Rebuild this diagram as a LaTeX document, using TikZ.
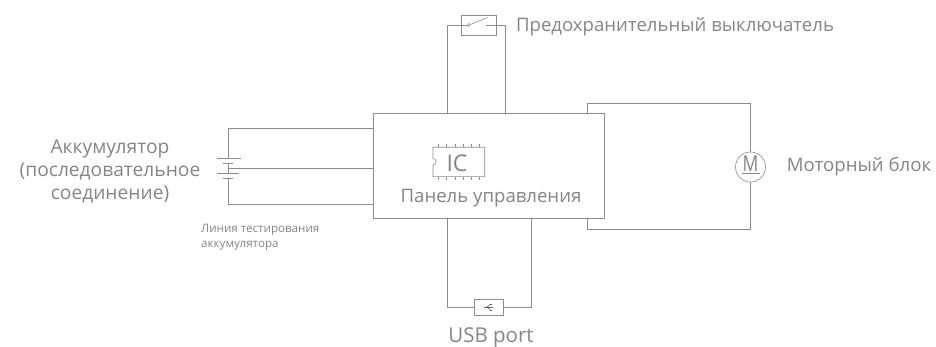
\documentclass[tikz,border=0pt]{standalone}
\usepackage{fontspec}
\setmainfont{Open Sans}
\usepackage{xcolor}
\usepackage{graphicx}
\usetikzlibrary{positioning}
\definecolor{wirec}{HTML}{8C8C8C}
\definecolor{inkc}{HTML}{858585}
\tikzset{
  wire/.style={draw=wirec,line width=0.9pt},
  thin wire/.style={draw=wirec,line width=0.6pt},
  part/.style={draw=wirec,line width=0.9pt,fill=white,inner sep=0pt},
  lbl/.style={font=\fontsize{18.6}{23}\selectfont,text=inkc,inner sep=0pt,align=center},
  small lbl/.style={font=\fontsize{11.6}{15}\selectfont,text=inkc,inner sep=0pt,align=left,anchor=west},
  plate/.style={draw=wirec,line width=0.8pt},
}
\begin{document}
\begin{tikzpicture}[x=1pt,y=-1pt]
  \useasboundingbox (0,0) rectangle (936,347);
  % wires behind the parts
  \coordinate (batt top) at (228,128);
  \coordinate (batt mid) at (228,168);
  \coordinate (batt bot) at (228,204);
  \node[part,minimum width=231pt,minimum height=105pt] (panel) at (488.5,165.5) {};
  \node[part,minimum width=35.5pt,minimum height=20pt] (switch) at (479,25) {};
  \node[part,minimum width=28.5pt,minimum height=16.5pt] (usb) at (488.7,307.5) {};
  \node[circle,draw=wirec,line width=0.6pt,fill=white,minimum size=30pt,inner sep=0pt] (motor) at (750.5,167) {};
  \coordinate (plate a) at (228,158);
  \coordinate (plate d) at (228,178);
  \draw[wire] (plate a) -- (batt top) -- (batt top -| panel.west);
  \draw[wire] (batt mid) -- (batt mid -| panel.west);
  \draw[wire] (plate d) -- (batt bot) -- (batt bot -| panel.west);
  \draw[wire] (228,163) -- (228,173);
  \draw[plate] (217,158) -- (241,158);
  \draw[plate] (223,163) -- (233,163);
  \draw[plate] (217,173) -- (239,173);
  \draw[plate] (223,178) -- (233,178);
  % switch
  \coordinate (switch l) at (447.7,113);
  \coordinate (switch r) at (505,113);
  \draw[wire] (switch l) |- (switch.west);
  \draw[wire] (switch r) |- (switch.east);
  \draw[thin wire] (switch.west) -- (467.5,25);
  \draw[thin wire] (469,25) circle (1.5pt);
  \draw[thin wire] (470.4,24.5) -- (487.5,17.5);
  \draw[thin wire] (485.7,25) -- (switch.east);
  % usb
  \coordinate (usb l) at (447.7,218);
  \coordinate (usb r) at (531.7,218);
  \draw[wire] (usb l) |- (usb.west);
  \draw[wire] (usb r) |- (usb.east);
  \draw[thin wire,draw=inkc!70!black] (483.5,307.5) -- (493,307.5);
  \draw[thin wire,draw=inkc!70!black] (486.5,307.5) -- (490,304.5) -- (492,304.5);
  \draw[thin wire,draw=inkc!70!black] (488,307.5) -- (490.5,310.5) -- (492,310.5);
  % motor
  \coordinate (motor t) at (587.5,113);
  \coordinate (motor b) at (587.5,218);
  \draw[wire] (motor t) |- (750.5,103) -- (motor.north);
  \draw[wire] (motor b) |- (750.5,229) -- (motor.south);
  \node[text=inkc,font=\fontsize{17.5}{18}\selectfont,inner sep=0pt] (motor m) at (750.5,163.5) {\scalebox{1}[1.25]{M}};
  \draw[draw=wirec,line width=1.2pt] (741.5,173.5) -- (760,173.5);
  % IC
  \draw[thin wire] (433,147.3) -- (484.7,147.3) -- (484.7,176.7) -- (433,176.7) -- (433,165)
    arc[start angle=-90,end angle=90,radius=3.2pt] -- cycle;
  \foreach \x in {438.3,446.7,455,463.3,471,479} {
    \draw[thin wire] (\x,144) -- (\x,147.3);
    \draw[thin wire] (\x,176.7) -- (\x,180);
  }
  \node[lbl,font=\fontsize{23}{23}\selectfont] (ic) at (457,163) {IC};
  % labels
  \node[lbl] (panel lbl) at (491,198.5) {Панель управления};
  \node[lbl] (switch lbl) at (675,26.5) {Предохранительный выключатель};
  \node[lbl] (motor lbl) at (859,167) {Моторный блок};
  \node[lbl,font=\fontsize{20.5}{23}\selectfont] (usb lbl) at (491,338) {USB port};
  \node[lbl,font=\fontsize{19.2}{23}\selectfont] (batt lbl) at (110,171.5) {Аккумулятор\\(последовательное\\соединение)};
  \node[small lbl] (test lbl) at (201,237.5) {Линия тестирования\\аккумулятора};
\end{tikzpicture}
\end{document}
